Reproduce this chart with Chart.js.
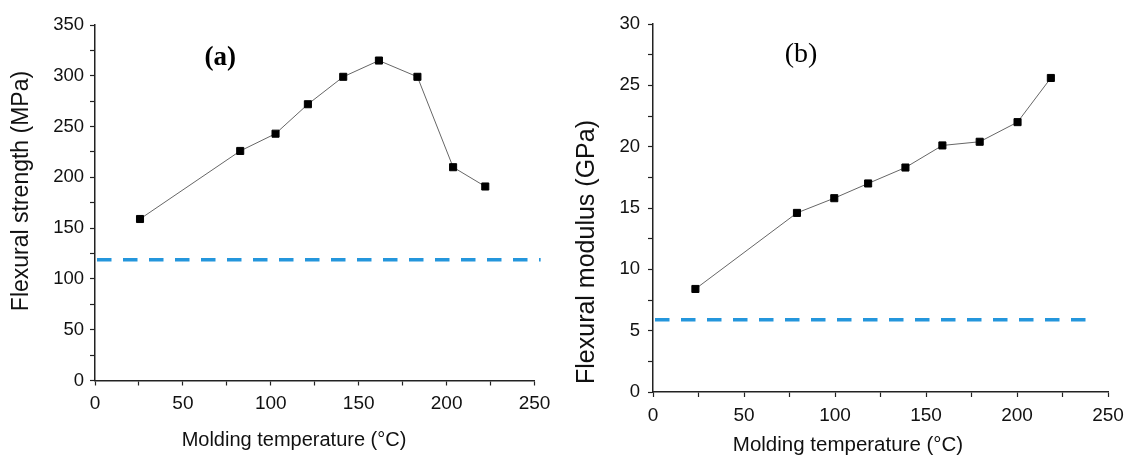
<!DOCTYPE html>
<html>
<head>
<meta charset="utf-8">
<script src="https://cdn.jsdelivr.net/npm/chart.js@4.4.1/dist/chart.umd.min.js"></script>
<style>
  html, body { margin: 0; padding: 0; background: #fff; }
  #wrap { position: relative; width: 1128px; height: 457px; }
  canvas { position: absolute; top: 0; }
</style>
</head>
<body>
<div id="wrap">
  <canvas id="chartA" width="560" height="457" style="left:0"></canvas>
  <canvas id="chartB" width="568" height="457" style="left:560px"></canvas>
</div>
<script>
// panel (a) - flexural strength
const temperatureA = [25.6, 82.6, 102.7, 121.1, 141.2, 161.5, 183.4, 203.7, 222.0]
const strengthA = [159, 226, 243, 272, 299, 315, 299, 210, 191]
const baselineA = 118.8
const baselineEndA = 253.5

// panel (b) - flexural modulus
const temperatureB = [23.3, 79.1, 99.6, 118.2, 138.7, 159.0, 179.5, 200.3, 218.6]
const modulusB = [8.4, 14.6, 15.8, 17.0, 18.3, 20.1, 20.4, 22.0, 25.6]
const baselineB = 5.9
const baselineEndB = 243

const xTicksMajor = [0, 50, 100, 150, 200, 250]

const SANS = "'Liberation Sans', Arial, sans-serif"
const SERIF = "'Liberation Serif', 'Times New Roman', serif"
const BLUE = 'rgb(36,150,220)'
const AXIS = '#222'

// axis titles and panel tag, drawn on top of the chart
const extraText = {
    id: 'extraText',
    afterDatasetsDraw(chart, args, opts) {
        const { ctx, scales: { x, y } } = chart
        ctx.save()
        ctx.fillStyle = '#000'
        ctx.textAlign = 'center'
        ctx.textBaseline = 'middle'

        ctx.font = opts.tag.font
        ctx.fillText(opts.tag.text, x.getPixelForValue(opts.tag.x), y.getPixelForValue(opts.tag.y))

        ctx.font = opts.xTitle.font
        ctx.fillStyle = '#111'
        ctx.fillText(opts.xTitle.text, opts.xTitle.left, opts.xTitle.top)

        ctx.translate(opts.yTitle.left, opts.yTitle.top)
        ctx.rotate(-Math.PI / 2)
        ctx.font = opts.yTitle.font
        ctx.fillText(opts.yTitle.text, 0, 0)
        ctx.restore()
    }
}

const makeChart = (id, cfg) => {
    const points = cfg.xs.map((x, i) => ({ x: x, y: cfg.ys[i] }))
    const base = [{ x: 0, y: cfg.base }, { x: cfg.baseEnd, y: cfg.base }]

    return new Chart(document.getElementById(id), {
        type: 'scatter',
        data: {
            datasets: [
                {
                    data: base,
                    showLine: true,
                    borderColor: BLUE,
                    borderWidth: 3.5,
                    borderDash: [14.5, 11.5],
                    borderDashOffset: -2,
                    pointRadius: 0,
                    clip: false
                },
                {
                    data: points,
                    showLine: true,
                    borderColor: '#666',
                    borderWidth: 1,
                    pointStyle: 'rect',
                    pointRadius: 5,
                    pointBackgroundColor: '#000',
                    pointBorderColor: '#000',
                    pointBorderWidth: 1
                }
            ]
        },
        options: {
            responsive: false,
            animation: false,
            devicePixelRatio: 1,
            layout: { padding: cfg.padding },
            plugins: {
                legend: { display: false },
                tooltip: { enabled: false },
                extraText: { tag: cfg.tag, xTitle: cfg.xTitle, yTitle: cfg.yTitle }
            },
            scales: {
                x: {
                    type: 'linear',
                    min: 0,
                    max: 250,
                    afterFit: s => {
                        s.height = cfg.xHeight
                        s.paddingLeft = 0
                        s.paddingRight = 0
                    },
                    afterBuildTicks: s => { s.ticks = [0, 25, 50, 75, 100, 125, 150, 175, 200, 225, 250].map(v => ({ value: v })) },
                    ticks: {
                        color: '#111',
                        font: { family: SANS, size: 19 },
                        padding: 7,
                        maxRotation: 0,
                        callback: v => xTicksMajor.includes(v) ? String(v) : ''
                    },
                    grid: { drawOnChartArea: false, tickLength: 5, tickColor: AXIS, tickWidth: 1.2 },
                    border: { color: AXIS, width: 1.5 }
                },
                y: {
                    type: 'linear',
                    min: 0,
                    max: cfg.yMax,
                    afterFit: s => {
                        s.width = cfg.yWidth
                        s.paddingTop = 0
                        s.paddingBottom = 0
                    },
                    afterBuildTicks: s => { s.ticks = cfg.yTicks.map(v => ({ value: v })) },
                    ticks: {
                        color: '#111',
                        font: { family: SANS, size: 18.5 },
                        padding: cfg.yPad,
                        callback: v => cfg.yLabels.includes(v) ? String(v) : ''
                    },
                    grid: { drawOnChartArea: false, tickLength: 5, tickColor: AXIS, tickWidth: 1.2 },
                    border: { color: AXIS, width: 1.5 }
                }
            }
        },
        plugins: [extraText]
    })
}

const yTicksA = []
for (let v = 0; v <= 350; v += 25) yTicksA.push(v)
const yLabelsA = [0, 50, 100, 150, 200, 250, 300, 350]

const yTicksB = []
for (let v = 0; v <= 30; v += 2.5) yTicksB.push(v)
const yLabelsB = [0, 5, 10, 15, 20, 25, 30]

makeChart('chartA', {
    xs: temperatureA, ys: strengthA, base: baselineA, baseEnd: baselineEndA,
    yMax: 350, yTicks: yTicksA, yLabels: yLabelsA,
    padding: { left: 0, top: 25, right: 25.5, bottom: 0 },
    yWidth: 95, xHeight: 76.5, yPad: 6,
    tag: { text: '(a)', x: 71.2, y: 317.5, font: `bold 27px ${SERIF}` },
    xTitle: { text: 'Molding temperature (°C)', left: 294, top: 440, font: `20px ${SANS}` },
    yTitle: { text: 'Flexural strength (MPa)', left: 22, top: 191, font: `23px ${SANS}` }
})

makeChart('chartB', {
    xs: temperatureB, ys: modulusB, base: baselineB, baseEnd: baselineEndB,
    yMax: 30, yTicks: yTicksB, yLabels: yLabelsB,
    padding: { left: 0, top: 24, right: 20, bottom: 0 },
    yWidth: 93, xHeight: 65, yPad: 8,
    tag: { text: '(b)', x: 81.3, y: 27.5, font: `28px ${SERIF}` },
    xTitle: { text: 'Molding temperature (°C)', left: 288, top: 445, font: `20.5px ${SANS}` },
    yTitle: { text: 'Flexural modulus (GPa)', left: 27, top: 252, font: `25px ${SANS}` }
})
</script>
</body>
</html>
